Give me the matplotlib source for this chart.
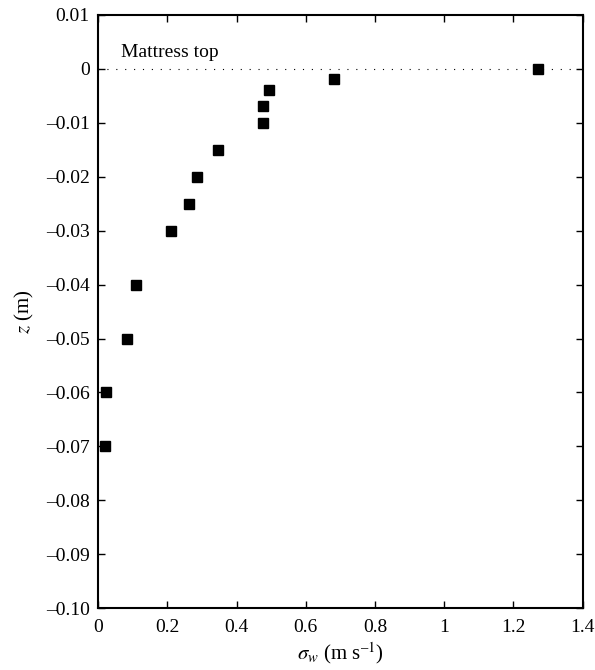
import matplotlib
matplotlib.use("Agg")
import matplotlib.pyplot as plt

# vertical velocity fluctuation profile above/below the mattress
sigma_w = [1.27, 0.683, 0.494, 0.477, 0.477, 0.346, 0.285, 0.262, 0.211, 0.110, 0.084, 0.023, 0.021]
z = [0.0, -0.002, -0.004, -0.007, -0.010, -0.015, -0.020, -0.025, -0.030, -0.040, -0.050, -0.060, -0.070]

x_ticks = [0, 0.2, 0.4, 0.6, 0.8, 1.0, 1.2, 1.4]
x_labels = ['0', '0.2', '0.4', '0.6', '0.8', '1', '1.2', '1.4']
y_ticks = [0.01, 0, -0.01, -0.02, -0.03, -0.04, -0.05, -0.06, -0.07, -0.08, -0.09, -0.10]
y_labels = ['0.01', '0', '\u20130.01', '\u20130.02', '\u20130.03', '\u20130.04', '\u20130.05',
            '\u20130.06', '\u20130.07', '\u20130.08', '\u20130.09', '\u20130.10']

plt.rcParams['font.family'] = 'Liberation Serif'
plt.rcParams['mathtext.fontset'] = 'stix'

fig = plt.figure(figsize=(5.95, 6.70), dpi=100)
ax = fig.add_axes([0.165, 0.092, 0.814, 0.886])

ax.axhline(0, color='black', linestyle=(0, (1, 7)), linewidth=0.8, zorder=1)
ax.plot(sigma_w, z, linestyle='none', marker='s', markersize=6.7,
        color='black', zorder=3, clip_on=False)
ax.text(0.065, 0.0022, 'Mattress top', fontsize=14)

ax.set_xlim(0, 1.4)
ax.set_ylim(-0.10, 0.01)
ax.set_xticks(x_ticks)
ax.set_xticklabels(x_labels)
ax.set_yticks(y_ticks)
ax.set_yticklabels(y_labels)
ax.tick_params(direction='in', length=5, width=1, top=True, right=True,
               labelsize=14)
ax.tick_params(axis='x', pad=8)
ax.tick_params(axis='y', pad=6)
for sp in ax.spines.values():
    sp.set_linewidth(1.5)

ax.set_xlabel('$\\sigma_w$ (m s$^{\\mathrm{\u2013}1}$)', fontsize=15, labelpad=3)
ax.set_ylabel('$z$ (m)', fontsize=15, labelpad=7)

fig.savefig('out.png', dpi=100)
